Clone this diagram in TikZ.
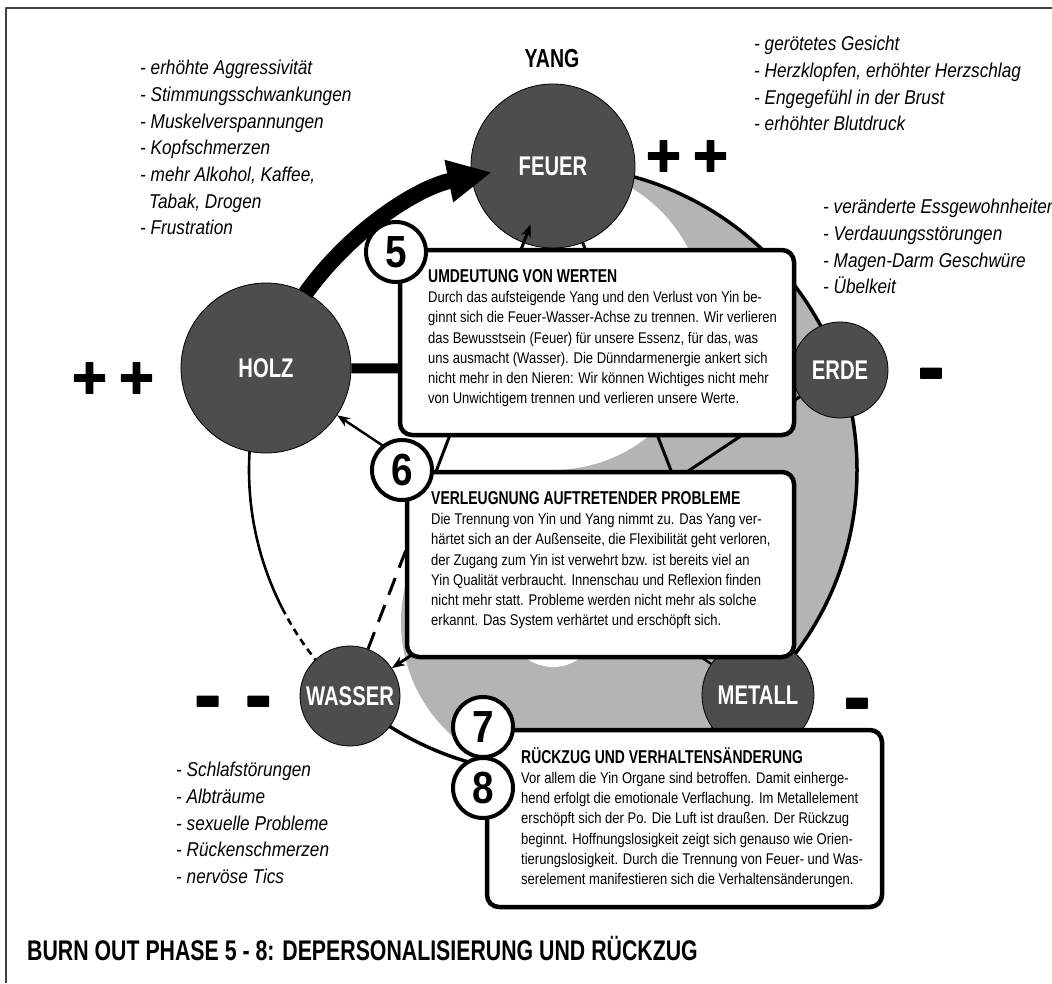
\documentclass[tikz,border=0pt]{standalone}
\usepackage{fontspec}
\setmainfont{Liberation Sans}
\newfontfamily\condbody{Liberation Sans}[FakeStretch=0.84]
\newfontfamily\condhead{Liberation Sans}[FakeStretch=0.75]
\newfontfamily\condlist{Liberation Sans}[FakeStretch=0.86]
\newfontfamily\condsign{Liberation Sans}[UprightFont=* Bold, FakeBold=2]
\usetikzlibrary{arrows.meta,calc,backgrounds}
\definecolor{yingray}{HTML}{B4B4B4}
\definecolor{elemgray}{HTML}{4D4D4D}

\begin{document}
\begin{tikzpicture}[x=1pt,y=-1pt,line join=round]
\useasboundingbox (0,0) rectangle (1052,983);
\draw[line width=2.5pt,black!75] (6,983) -- (6,8) -- (1052,8);

\begin{scope}[every node/.style={circle,draw=black,line width=0.8pt,fill=elemgray,text=white,inner sep=0pt,
      font=\condhead\bfseries\fontsize{27}{27}\selectfont}]
    \node (feuer)[minimum size=164pt] at (553,166) {FEUER};
    \node (erde)[minimum size=96pt] at (840,370) {ERDE};
    \node (metall)[minimum size=112pt] at (758,695) {METALL};
    \node (wasser)[minimum size=100pt] at (350,696) {WASSER};
    \node (holz)[minimum size=170pt] at (266,368) {HOLZ};
\end{scope}

\begin{scope}[on background layer]
    \coordinate (yy) at (553,470);
    \fill[yingray] ($(yy)+(0,-304)$) arc[start angle=-90,end angle=90,radius=304]
        arc[start angle=90,end angle=270,radius=152]
        arc[start angle=90,end angle=-90,radius=152] -- cycle;
    \fill[white] ($(yy)+(0,152)$) circle[radius=45];
    \draw[line width=3.5pt] ($(yy)+(-90:304)$) arc[start angle=-90,end angle=132,radius=304];
    \draw[line width=2.6pt] ($(yy)+(199.6:304)$) arc[start angle=199.6,end angle=153,radius=304];
    \draw[line width=2.6pt,dash pattern=on 7pt off 5pt] ($(yy)+(153:304)$) arc[start angle=153,end angle=132,radius=304];
\end{scope}

\draw[line width=16pt,-{Triangle[length=44pt,width=40pt]}] ($(yy)+(215.5:304)$) arc[start angle=215.5,end angle=258.4,radius=304];

\begin{scope}[line width=3pt]
    \draw[line width=10pt] (holz) -- (erde);
    \draw[-{Stealth[length=13pt,width=10pt]}] (erde) -- (wasser);
    \coordinate (wfbreak) at ($(wasser)!0.3!(feuer)$);
    \draw[dash pattern=on 18pt off 11pt] (wasser) -- (wfbreak);
    \draw[-{Stealth[length=13pt,width=10pt]}] (wfbreak) -- ($(feuer)!0.11!(wasser)$);
    \draw (feuer) -- (metall);
    \draw[line width=2.4pt,-{Stealth[length=13pt,width=10pt]}] (metall) -- (holz);
\end{scope}

\begin{scope}[every node/.style={draw=black,line width=4.5pt,fill=white,rounded corners=12pt,anchor=north west,inner sep=0pt,outer sep=0pt}]
    \node (box5)[minimum width=394pt,minimum height=185pt] at (400,250) {};
    \node (box6)[minimum width=387pt,minimum height=185pt] at (407,472) {};
    \node (box7)[minimum width=395pt,minimum height=177pt] at (487,730) {};
\end{scope}

\begin{scope}[every node/.style={circle,draw=black,line width=4pt,fill=white,minimum size=60pt,inner sep=0pt,
      font=\condlist\bfseries\fontsize{45}{45}\selectfont}]
    \node (phase5) at (396,252) {5};
    \node (phase6) at (402,470) {6};
    \node (phase7) at (483,727) {7};
    \node (phase8) at (483,788) {8};
\end{scope}

\begin{scope}[every node/.style={anchor=north west,align=left,inner sep=0pt,font=\condbody\fontsize{15.5}{20.3}\selectfont}]
    \node (text5) at (428,269) {{\condhead\bfseries\fontsize{18.6}{20}\selectfont UMDEUTUNG VON WERTEN}\\
        Durch das aufsteigende Yang und den Verlust von Yin be-\\
        ginnt sich die Feuer-Wasser-Achse zu trennen. Wir verlieren\\
        das Bewusstsein (Feuer) für unsere Essenz, für das, was\\
        uns ausmacht (Wasser). Die Dünndarmenergie ankert sich\\
        nicht mehr in den Nieren: Wir können Wichtiges nicht mehr\\
        von Unwichtigem trennen und verlieren unsere Werte.};
    \node (text6) at (431,491) {{\condhead\bfseries\fontsize{18.6}{20}\selectfont VERLEUGNUNG AUFTRETENDER PROBLEME}\\
        Die Trennung von Yin und Yang nimmt zu. Das Yang ver-\\
        härtet sich an der Außenseite, die Flexibilität geht verloren,\\
        der Zugang zum Yin ist verwehrt bzw. ist bereits viel an\\
        Yin Qualität verbraucht. Innenschau und Reflexion finden\\
        nicht mehr statt. Probleme werden nicht mehr als solche\\
        erkannt. Das System verhärtet und erschöpft sich.};
    \node (text7) at (521,747) {{\condhead\bfseries\fontsize{18.6}{20}\selectfont RÜCKZUG UND VERHALTENSÄNDERUNG}\\
        Vor allem die Yin Organe sind betroffen. Damit einherge-\\
        hend erfolgt die emotionale Verflachung. Im Metallelement\\
        erschöpft sich der Po. Die Luft ist draußen. Der Rückzug\\
        beginnt. Hoffnungslosigkeit zeigt sich genauso wie Orien-\\
        tierungslosigkeit. Durch die Trennung von Feuer- und Was-\\
        serelement manifestieren sich die Verhaltensänderungen.};
\end{scope}

\begin{scope}[every node/.style={anchor=north west,align=left,inner sep=0pt,font=\condlist\itshape\fontsize{20}{26.7}\selectfont}]
    \node (symholz) at (140,60) {- erhöhte Aggressivität\\
        - Stimmungsschwankungen\\
        - Muskelverspannungen\\
        - Kopfschmerzen\\
        - mehr Alkohol, Kaffee,\\
        \hspace*{9pt}Tabak, Drogen\\
        - Frustration};
    \node (symfeuer) at (754,36) {- gerötetes Gesicht\\
        - Herzklopfen, erhöhter Herzschlag\\
        - Engegefühl in der Brust\\
        - erhöhter Blutdruck};
    \node (symerde) at (823,199) {- veränderte Essgewohnheiten\\
        - Verdauungsstörungen\\
        - Magen-Darm Geschwüre\\
        - Übelkeit};
    \node (symwasser) at (176,762) {- Schlafstörungen\\
        - Albträume\\
        - sexuelle Probleme\\
        - Rückenschmerzen\\
        - nervöse Tics};
\end{scope}

\begin{scope}[every node/.style={anchor=base,inner sep=0pt,font=\condsign\fontsize{60}{60}\selectfont}]
    \node (plusfeuer) at (687,176) {+\kern12pt+};
    \node (plusholz) at (113,398) {+\kern12pt+};
    \node (minuserde)[font=\condsign\fontsize{80}{80}\selectfont] at (931,394) {-};
    \node (minusmetall)[font=\condsign\fontsize{80}{80}\selectfont] at (857,724) {-};
    \node (minuswasser)[font=\condsign\fontsize{80}{80}\selectfont] at (233,722) {-\kern24pt-};
\end{scope}

\node (yang)[anchor=base,inner sep=0pt,font=\condhead\bfseries\fontsize{26}{26}\selectfont] at (552,67) {YANG};
\node (title)[anchor=base west,inner sep=0pt,font=\condhead\bfseries\fontsize{28.4}{30}\selectfont] at (27,960)
    {BURN OUT PHASE 5 - 8: DEPERSONALISIERUNG UND RÜCKZUG};
\end{tikzpicture}
\end{document}
